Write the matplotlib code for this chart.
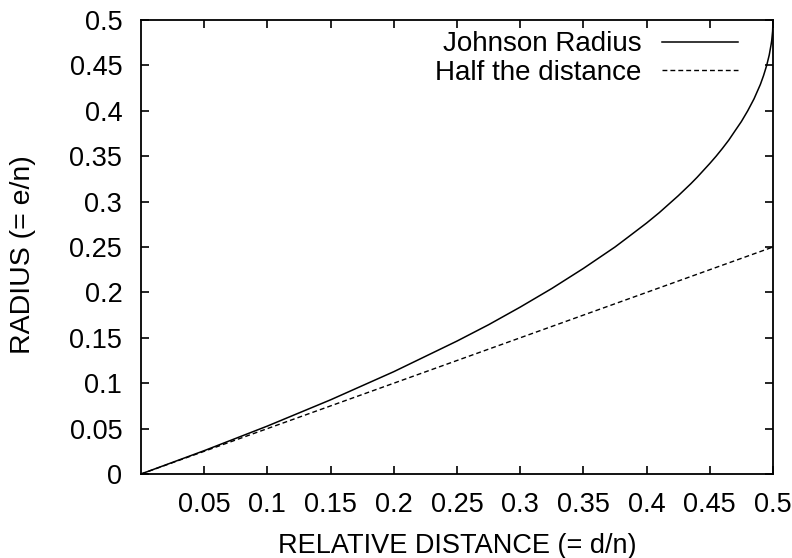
import numpy as np
import matplotlib.pyplot as plt

plt.rcParams['font.family'] = ['Liberation Sans', 'DejaVu Sans']

# relative distance d/n and Johnson radius e/n
dist = [0.0, 0.05, 0.1, 0.15, 0.2, 0.25, 0.275, 0.3, 0.325, 0.35, 0.375, 0.385,
        0.4, 0.41, 0.425, 0.435, 0.44, 0.45, 0.455, 0.46, 0.465, 0.47, 0.475,
        0.48, 0.485, 0.49, 0.4925, 0.495, 0.497, 0.4985, 0.499, 0.4997, 0.5]
johnson = [0.0, 0.0257, 0.0528, 0.0817, 0.1127, 0.1464, 0.1644, 0.1838, 0.2043,
           0.2264, 0.25, 0.2605, 0.2764, 0.2878, 0.3064, 0.3197, 0.3268, 0.342,
           0.35, 0.3586, 0.3677, 0.378, 0.3882, 0.400, 0.4132, 0.429, 0.4387,
           0.45, 0.4613, 0.473, 0.4776, 0.4878, 0.5]

half_x = [0.0, 0.5]
half_y = [0.0, 0.25]

xticks = [0.05, 0.1, 0.15, 0.2, 0.25, 0.3, 0.35, 0.4, 0.45, 0.5]
yticks = [0, 0.05, 0.1, 0.15, 0.2, 0.25, 0.3, 0.35, 0.4, 0.45, 0.5]

fig = plt.figure(figsize=(7.92, 5.58), dpi=100)
ax = fig.add_axes([141/792, 1-474/558, 632/792, 454/558])

ax.plot(dist, johnson, color='black', lw=1.1, label='Johnson Radius')
ax.plot(half_x, half_y, color='black', lw=1.0, ls=(0, (3.5, 2.2)), label='Half the distance')

ax.set_xlim(0, 0.5)
ax.set_ylim(0, 0.5)
ax.set_xticks(xticks)
ax.set_xticklabels([f'{t:g}' for t in xticks])
ax.set_yticks(yticks)
ax.set_yticklabels([f'{t:g}' for t in yticks])
ax.tick_params(direction='in', length=6, width=1.2, labelsize=19.5, top=True, right=True)
ax.tick_params(axis='x', pad=13)
ax.tick_params(axis='y', pad=13.5)
for s in ax.spines.values():
    s.set_linewidth(1.3)

fig.text(457/792, 1-553/558, 'RELATIVE DISTANCE (= d/n)', fontsize=19.5,
         ha='center', va='baseline')
fig.text(23/792, 1-255/558, 'RADIUS (= e/n)', fontsize=20.5, rotation=90,
         ha='center', va='center')

leg = ax.legend(loc='upper right', bbox_to_anchor=(0.9446, 0.975), frameon=False,
                fontsize=20, markerfirst=False, handlelength=2.75, handletextpad=0.72,
                borderaxespad=0, borderpad=0, labelspacing=0.08)
for t in leg.get_texts():
    t.set_ha('right')

fig.savefig('out.png', dpi=100)
